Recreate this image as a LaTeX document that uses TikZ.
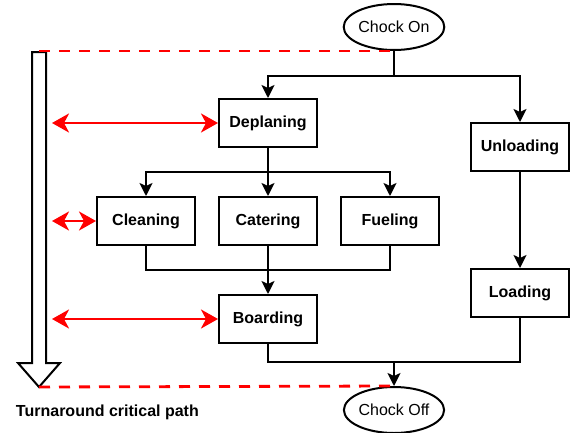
\documentclass[tikz,border=0pt]{standalone}
\usepackage{fontspec}
\setmainfont{Liberation Sans}
\usetikzlibrary{arrows.meta, positioning, shapes.geometric, calc}

\begin{document}
\begin{tikzpicture}[
  x=1pt, y=-1pt, line width=2pt,
  >={Stealth[length=13pt,width=13pt,inset=3pt]},
  task/.style     = {draw, rectangle, minimum height=48pt, minimum width=98pt,
                     font=\fontsize{16}{19}\selectfont\bfseries},
  event/.style    = {draw, ellipse, inner sep=0pt, minimum height=46pt, minimum width=98pt,
                     font=\fontsize{16}{19}\selectfont},
  critical/.style = {red, line width=2.8pt, dash pattern=on 11pt off 9pt},
  sync/.style     = {red, line width=2.8pt, >={Stealth[length=17pt,width=19pt,inset=5pt]}, <->},
  bigarrow/.style = {draw, fill=white, line join=miter},
]
  \useasboundingbox (0,0) rectangle (571,432);

  \node[event]                        (chockon)   at (394,27)  {Chock On};
  \node[task]                         (deplaning) at (268,123) {Deplaning};
  \node[task]                         (unloading) at (520,147) {Unloading};
  \node[task, below=48pt of deplaning] (catering)  {Catering};
  \node[task, left=22pt of catering]   (cleaning)  {Cleaning};
  \node[task, right=22pt of catering]  (fueling)   {Fueling};
  \node[task, below=48pt of catering]  (boarding)  {Boarding};
  \node[task, below=96pt of unloading] (loading)   {Loading};
  \node[event]                        (chockoff)  at (394,410) {Chock Off};

  \node[anchor=west, inner sep=0pt, font=\fontsize{16}{19}\selectfont\bfseries]
                                      (pathlabel) at (15,412) {Turnaround critical path};

  % critical path arrow on the left
  \coordinate (pathtop) at (39,51);
  \coordinate (pathend) at (39,387);
  \draw[bigarrow] (32,52) -- (46,52) -- (46,363) -- (60,363) -- (pathend)
                  -- (18,363) -- (32,363) -- cycle;
  \draw[critical] (pathtop) -- (chockon.south);
  \draw[critical] (pathend) -- (chockoff.north);

  % forks and joins
  \coordinate (fork)  at ($(chockon.south)+(0,-25pt)$);
  \draw (chockon.south) -- (fork);
  \draw[->] (fork) -| (deplaning.north);
  \draw[->] (fork) -| (unloading.north);

  \coordinate (split) at ($(deplaning.south)!0.5!(catering.north)$);
  \draw[->] (deplaning) -- (catering);
  \draw[->] (split) -| (cleaning.north);
  \draw[->] (split) -| (fueling.north);

  \coordinate (join) at ($(catering.south)!0.5!(boarding.north)$);
  \draw (cleaning.south) |- (join) -| (fueling.south);
  \draw[->] (catering) -- (boarding);

  \draw[->] (unloading) -- (loading);

  \coordinate (merge) at ($(chockoff.north)+(0,24pt)$);
  \draw (boarding.south) |- (merge) -| (loading.south);
  \draw[->] (merge) -- (chockoff.north);

  % slack markers
  \coordinate (rail) at (52,51);
  \draw[sync] (rail |- deplaning.west) -- (deplaning.west);
  \draw[sync] (rail |- cleaning.west)  -- (cleaning.west);
  \draw[sync] (rail |- boarding.west)  -- (boarding.west);
\end{tikzpicture}
\end{document}
